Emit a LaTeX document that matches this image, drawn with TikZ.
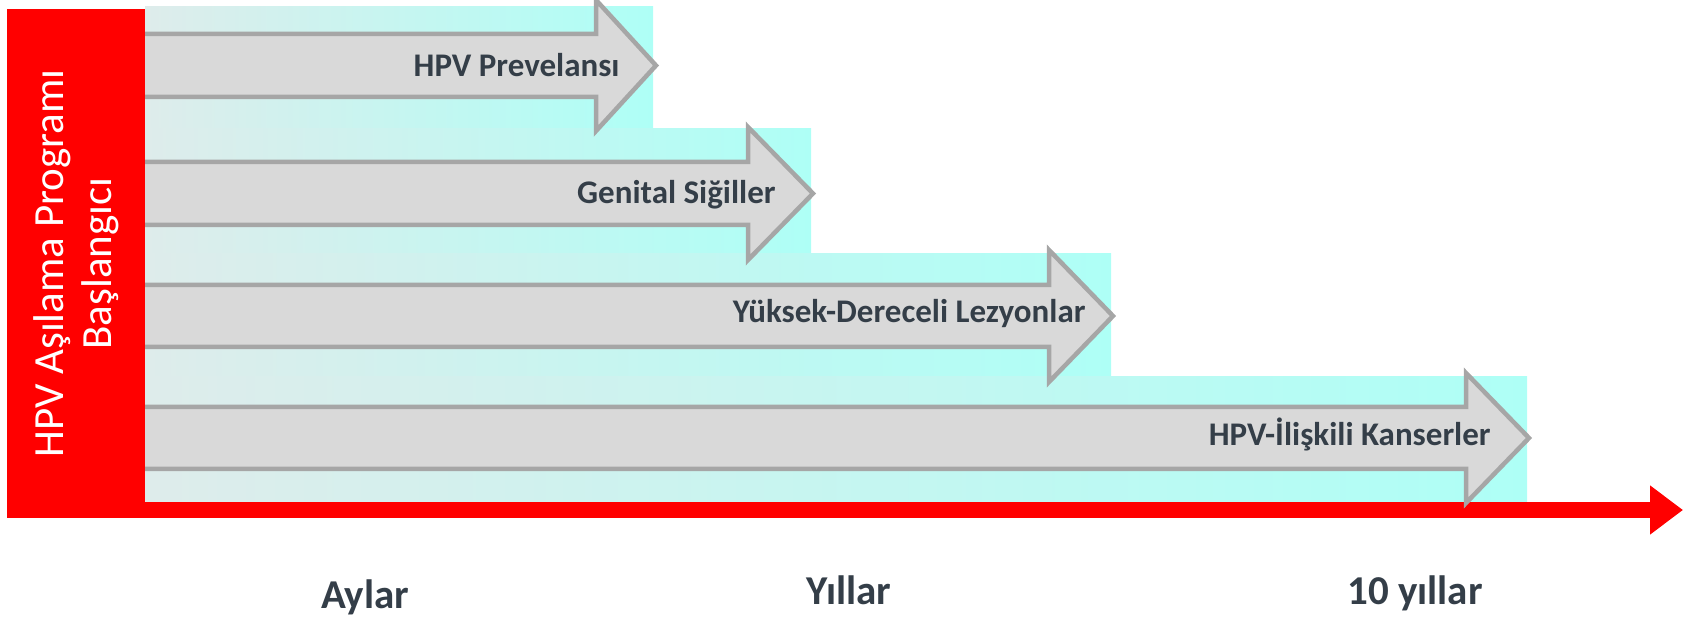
\documentclass[tikz,border=0pt]{standalone}
\usepackage{fontspec}
\setmainfont{Carlito}
\usepackage{tikz}
\usetikzlibrary{positioning,arrows.meta}
\definecolor{zaman}{RGB}{255,0,0}
\definecolor{oktop}{RGB}{217,217,217}
\definecolor{okkenar}{RGB}{166,166,166}
\definecolor{soluk}{RGB}{222,236,235}
\definecolor{turkuaz}{RGB}{174,255,246}
\definecolor{yazi}{RGB}{52,62,72}

\begin{document}
\begin{tikzpicture}[x=0.5pt,y=-0.5pt,
    band/.style={left color=soluk,right color=turkuaz},
    blok/.style={fill=oktop,draw=okkenar,line width=2.25pt},
    etiket/.style={anchor=base east,inner sep=0pt,text=yazi,font=\fontsize{16.5}{19}\selectfont\bfseries},
    donem/.style={anchor=base,inner sep=0pt,text=yazi,font=\fontsize{20.5}{24}\selectfont\bfseries},
    eksen/.style={draw=zaman,line width=8pt,-{Triangle[length=16.5pt,width=23.5pt]}}]
      \useasboundingbox (0,0) rectangle (1683,620);

      \shade[band] (145,7) rectangle (653,129);
      \shade[band] (145,129) rectangle (811,254);
      \shade[band] (145,254) rectangle (1111,377);
      \shade[band] (145,377) rectangle (1527,502);

      \coordinate (eksenbas) at (140,510);
      \coordinate (eksenson) at (1683,510);
      \draw[eksen] (eksenbas) -- (eksenson);

      \draw[blok] (140,34) -- (596,34) -- (596,0) -- (656,65.5) -- (596,131) -- (596,97) -- (140,97) -- cycle;
      \draw[blok] (140,162) -- (748,162) -- (748,127) -- (813,193.5) -- (748,260) -- (748,225) -- (140,225) -- cycle;
      \draw[blok] (140,285) -- (1049,285) -- (1049,250) -- (1113,316) -- (1049,382) -- (1049,347) -- (140,347) -- cycle;
      \draw[blok] (140,407) -- (1466,407) -- (1466,373) -- (1529,438) -- (1466,503) -- (1466,469) -- (140,469) -- cycle;

      \node[etiket] (prevalans) at (620,77) {HPV Prevelansı};
      \node[etiket] (sigil) at (776,204) {Genital Siğiller};
      \node[etiket] (lezyon) at (1086,323) {Yüksek-Dereceli Lezyonlar};
      \node[etiket] (kanser) at (1491,445) {HPV-İlişkili Kanserler};

      \node[rotate=90,fill=zaman,text=white,minimum width=254.5pt,minimum height=69pt,align=center,font=\fontsize{21.5}{24}\selectfont](baslangic) at (76,263.5){HPV Aşılama Programı\\Başlangıcı};

      \node[donem] (aylar) at (365,608) {Aylar};
      \node[donem] (yillar) at (849,604) {Yıllar};
      \node[donem] (onyil) at (1415,604) {10 yıllar};
    \end{tikzpicture}
\end{document}
